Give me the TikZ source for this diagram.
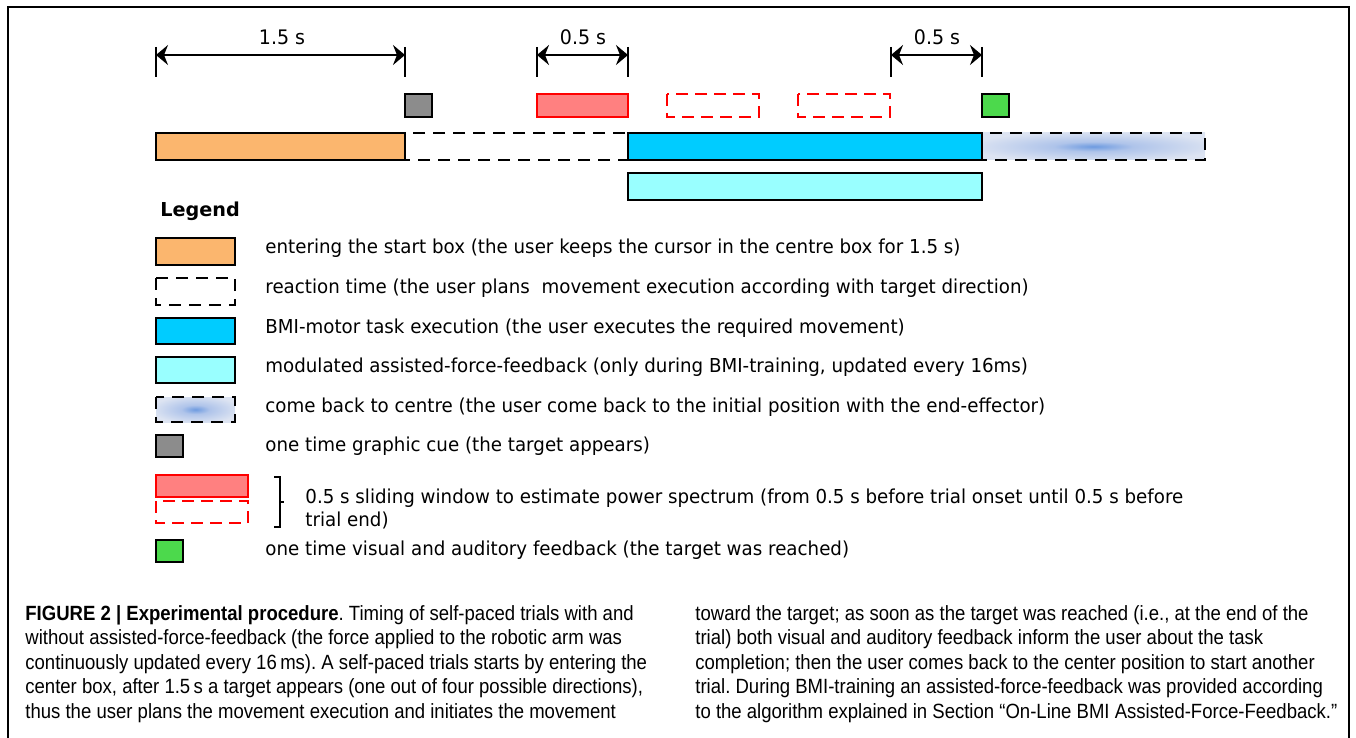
\documentclass[tikz,border=0pt]{standalone}
\usepackage{fontspec}
\setmainfont{Liberation Sans}
\newfontfamily\figfont[FakeStretch=0.95]{DejaVu Sans}
\newfontfamily\figbold{DejaVu Sans Bold}
\newfontfamily\capfont[FakeStretch=0.9]{Liberation Sans}
\usetikzlibrary{arrows.meta}
\frenchspacing

\definecolor{startcol}{HTML}{FBB66E}
\definecolor{taskcol}{HTML}{00CCFF}
\definecolor{forcecol}{HTML}{99FFFF}
\definecolor{cuecol}{HTML}{8C8C8C}
\definecolor{wincol}{HTML}{FF8080}
\definecolor{fbcol}{HTML}{4CD94C}
\definecolor{backout}{HTML}{DDE4F2}
\definecolor{backmid}{HTML}{AFC4EA}
\definecolor{backin}{HTML}{6E9BE0}
\pgfdeclareradialshading{backshade}{\pgfpoint{0bp}{0bp}}{color(0bp)=(backin); color(9bp)=(backmid); color(28bp)=(backout); color(50bp)=(backout)}

\begin{document}
\begin{tikzpicture}[x=0.5pt,y=-0.5pt,>={Stealth[length=6pt,width=10pt,inset=2pt]},
  bar/.style={draw,line width=1pt},
  dashbar/.style={draw,line width=1pt,dash pattern=on 6pt off 4pt},
  winbox/.style={draw=red,line width=1pt,fill=wincol},
  windash/.style={draw=red,line width=1pt,dash pattern=on 6pt off 3.5pt},
  backbar/.style={shading=backshade},
  tick/.style={line width=1pt},
  dim/.style={<->,line width=1pt},
  dimlabel/.style={font=\figfont\fontsize{10}{12}\selectfont,anchor=base},
  lgtxt/.style={font=\figfont\fontsize{9.6}{11}\selectfont,anchor=base west,inner sep=0pt},
  captxt/.style={font=\capfont\fontsize{10.3}{12}\selectfont,anchor=base west,inner sep=0pt}]
\useasboundingbox (0,0) rectangle (1356,738);
% frame
\draw[line width=1pt] (8,738) -- (8,7) -- (1349,7) -- (1349,738);

% time marks
\foreach \x/\n in {156/a,405/b,537/c,628/d,891/e,982/f}{
  \coordinate (top\n) at (\x,47); \coordinate (bot\n) at (\x,77); \coordinate (arr\n) at (\x,55);
  \draw[tick] (top\n) -- (bot\n);
}
\draw[dim] (arra) -- (arrb); \draw[dim] (arrc) -- (arrd); \draw[dim] (arre) -- (arrf);
\node[dimlabel] (l15) at (282,45) {1.5 s};
\node[dimlabel] (l05a) at (583,45) {0.5 s};
\node[dimlabel] (l05b) at (937,45) {0.5 s};

% upper row
\draw[bar,fill=cuecol] (405,94) rectangle (432,117);
\draw[winbox] (537,94) rectangle (628,117);
\draw[windash] (667,94) rectangle (759,117);
\draw[windash] (798,94) rectangle (890,117);
\draw[bar,fill=fbcol] (982,94) rectangle (1009,117);

% trial timeline
\draw[dashbar] (405,133) rectangle (628,160);
\path[backbar] (982,133) rectangle (1205,160);
\draw[dashbar] (982,133) rectangle (1205,160);
\draw[bar,fill=startcol] (156,133) rectangle (405,160);
\draw[bar,fill=taskcol] (628,133) rectangle (982,160);
\draw[bar,fill=forcecol] (628,173) rectangle (982,200);

% legend
\node[font=\figbold\fontsize{9.6}{11}\selectfont,anchor=base west,inner sep=0pt] (legend) at (160,216) {Legend};
\draw[bar,fill=startcol] (156,238) rectangle (235,265);
\draw[dashbar] (156,278) rectangle (235,305);
\draw[bar,fill=taskcol] (156,318) rectangle (235,344);
\draw[bar,fill=forcecol] (156,357) rectangle (235,383);
\path[backbar] (156,397) rectangle (235,422);
\draw[dashbar] (156,397) rectangle (235,422);
\draw[bar,fill=cuecol] (156,435) rectangle (183,457);
\draw[winbox] (156,475) rectangle (248,497);
\draw[windash] (156,501) rectangle (248,523);
\draw[bar,fill=fbcol] (156,540) rectangle (183,562);
\draw[line width=1pt] (274,477) -- (280,477) -- (280,527) -- (274,527);
\draw[line width=1pt] (280,502) -- (284,502);

\node[lgtxt] (lgstart) at (265,253) {entering the start box (the user keeps the cursor in the centre box for 1.5 s)};
\node[lgtxt] (lgreact) at (265,293) {reaction time (the user plans\ \ movement execution according with target direction)};
\node[lgtxt] (lgtask) at (265,333) {BMI-motor task execution (the user executes the required movement)};
\node[lgtxt] (lgforce) at (265,372) {modulated assisted-force-feedback (only during BMI-training, updated every 16ms)};
\node[lgtxt] (lgback) at (265,412) {come back to centre (the user come back to the initial position with the end-effector)};
\node[lgtxt] (lgcue) at (265,451) {one time graphic cue (the target appears)};
\node[lgtxt] (lgwin) at (305,503) {0.5 s sliding window to estimate power spectrum (from 0.5 s before trial onset until 0.5 s before};
\node[lgtxt] (lgwin2) at (305,526) {trial end)};
\node[lgtxt] (lgfb) at (265,555) {one time visual and auditory feedback (the target was reached)};

% caption
\foreach \txt [count=\i from 0] in {{\textbf{FIGURE 2 | Experimental procedure}. Timing of self-paced trials with and},
  {without assisted-force-feedback (the force applied to the robotic arm was},
  {continuously updated every 16\,ms). A self-paced trials starts by entering the},
  {center box, after 1.5\,s a target appears (one out of four possible directions),},
  {thus the user plans the movement execution and initiates the movement}}
  \node[captxt] (capl\i) at (25,{620+24.6*\i}) {\txt};
\foreach \txt [count=\i from 0] in {{toward the target; as soon as the target was reached (i.e., at the end of the},
  {trial) both visual and auditory feedback inform the user about the task},
  {completion; then the user comes back to the center position to start another},
  {trial. During BMI-training an assisted-force-feedback was provided according},
  {to the algorithm explained in Section “On-Line BMI Assisted-Force-Feedback.”}}
  \node[captxt] (capr\i) at (695,{620+24.6*\i}) {\txt};
\end{tikzpicture}
\end{document}
